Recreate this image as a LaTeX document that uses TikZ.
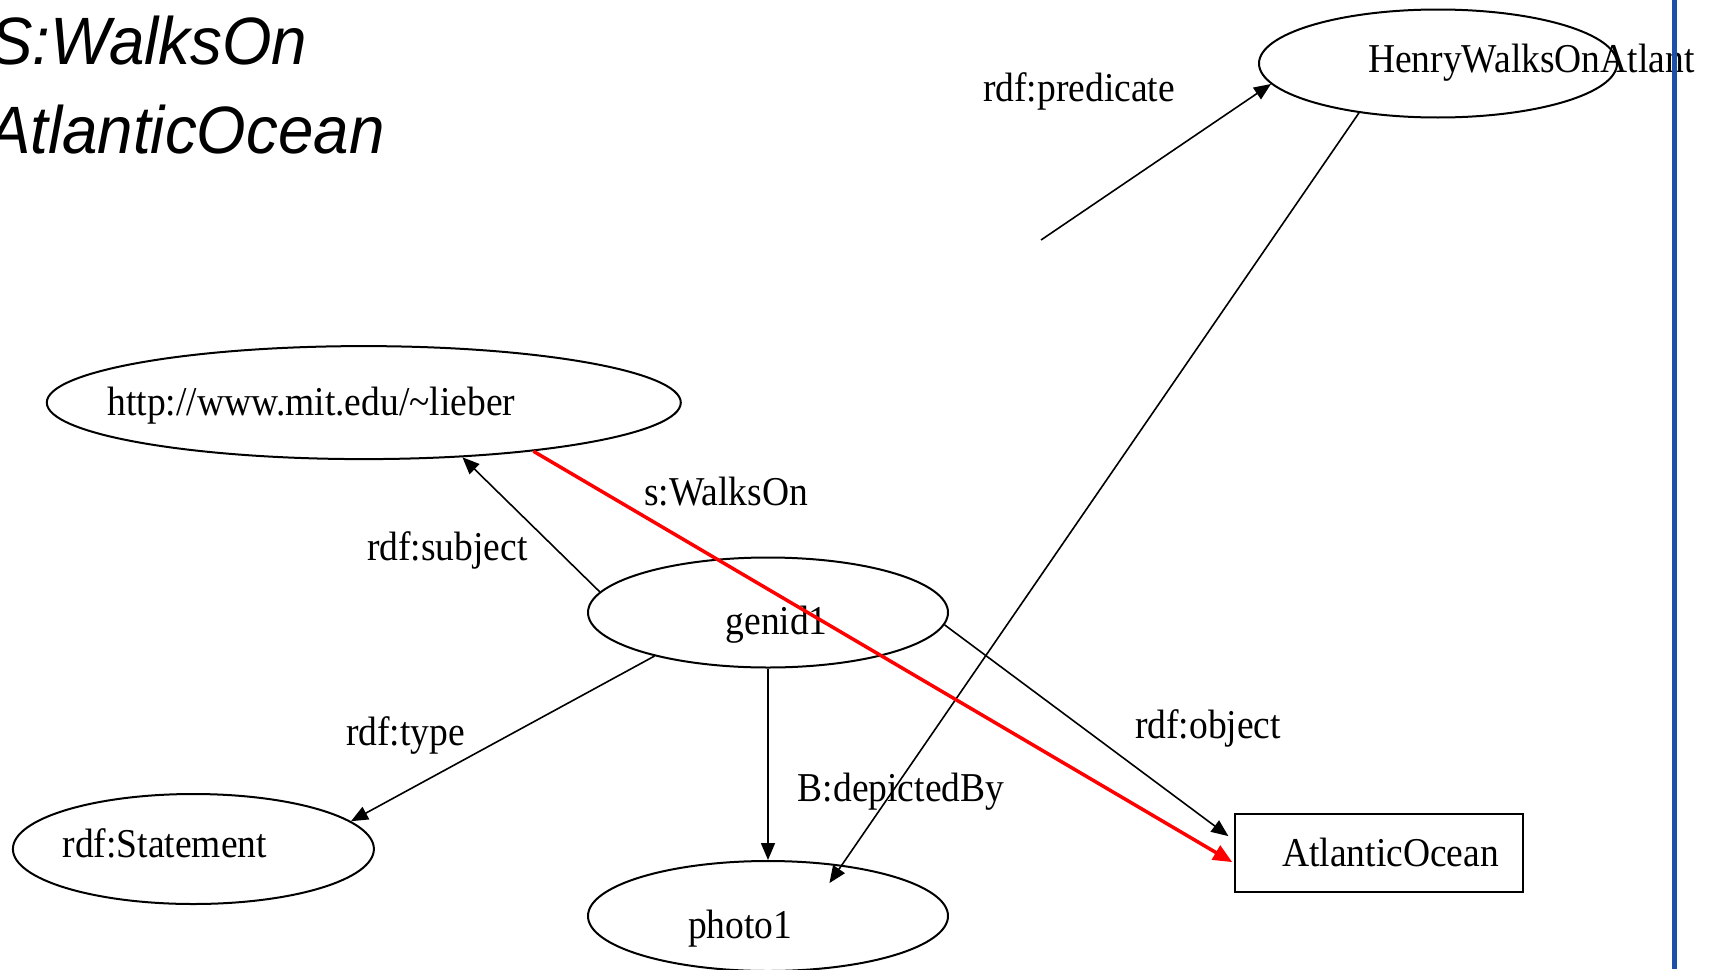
\documentclass[tikz,border=0pt]{standalone}
\usepackage{fontspec}
\setmainfont{Liberation Serif}
\newfontfamily\sansfont{Liberation Sans}
\usepackage{graphicx}
\usetikzlibrary{arrows.meta,calc,shapes.geometric}
\definecolor{slideblue}{RGB}{28,80,166}
\definecolor{edgered}{RGB}{255,0,0}
\newcommand{\sq}[1]{\scalebox{0.915}[1]{#1}}
\begin{document}
\begin{tikzpicture}[x=1pt,y=-1pt,
  res/.style={draw,ellipse,line width=2pt,inner sep=0pt},
  lit/.style={draw,rectangle,line width=2pt,inner sep=0pt},
  txt/.style={inner sep=0pt,anchor=base west,font=\fontsize{41}{49}\selectfont},
  edgearrow/.style={line width=1.6pt,-{Triangle[length=17pt,width=14pt]}},
  redarrow/.style={line width=3.5pt,draw=edgered,-{Triangle[length=19pt,width=16pt]}},
  bigtxt/.style={inner sep=0pt,anchor=base west,font=\sansfont\itshape\fontsize{67}{80}\selectfont}]
\useasboundingbox (0,0) rectangle (1718,969);
\clip (0,0) rectangle (1718,969);

% title text (cut at the left edge, as on the slide)
\node[bigtxt] (t1) at (-10,64) {\scalebox{0.95}[1]{S:WalksOn}};
\node[bigtxt] (t2) at (-12,153) {\scalebox{0.95}[1]{AtlanticOcean}};

% resource ellipses and literal box
\node[res,minimum width=358pt,minimum height=108pt] (henry) at (1438,63.5) {};
\node[res,minimum width=634pt,minimum height=113pt] (lieber) at (363.8,402.6) {};
\node[res,minimum width=360pt,minimum height=110pt] (genid) at (768,612.5) {};
\node[res,minimum width=361pt,minimum height=110pt] (stmt) at (193.4,849) {};
\node[res,minimum width=360pt,minimum height=110pt] (photo) at (768,916) {};
\node[lit,minimum width=288pt,minimum height=78pt] (atl) at (1379,853) {};

% node texts
\node[txt] (henryT) at (1368,72) {\sq{HenryWalksOnAtlant}};
\node[txt] (lieberT) at (107.4,415) {\sq{http://www.mit.edu/\textasciitilde lieber}};
\node[txt] (genidT) at (725.4,634) {\sq{genid1}};
\node[txt] (stmtT) at (62.5,857) {\sq{rdf:Statement}};
\node[txt] (photoT) at (688,938) {\sq{photo1}};
\node[txt] (atlT) at (1282,866) {\sq{AtlanticOcean}};

% edge labels
\node[txt] (lpred) at (983,101) {\sq{rdf:predicate}};
\node[txt] (lwalk) at (644,505) {\sq{s:WalksOn}};
\node[txt] (lsubj) at (367,560) {\sq{rdf:subject}};
\node[txt] (ltype) at (346,745) {\sq{rdf:type}};
\node[txt] (ldep) at (797.7,801) {\sq{B:depictedBy}};
\node[txt] (lobj) at (1135,738) {\sq{rdf:object}};

% connectors
\coordinate (predstart) at (1041,240);
\draw[edgearrow] (predstart) -- (henry.187);
\draw[edgearrow] (henry.212) -- ($(photo.center)+(61.4,-32.9)$);
\draw[edgearrow] (genid.173) -- (lieber.-29);
\draw[edgearrow] (genid.201) -- (stmt.10);
\draw[edgearrow] (genid.south) -- (photo.north);
\draw[edgearrow,shorten >=7pt] (genid.-4) -- (atl.175);
\draw[redarrow,shorten >=2pt] (lieber.-16) -- (atl.184);

% slide border line
\draw[slideblue,line width=5pt] (1674,0) -- (1674,969);
\end{tikzpicture}
\end{document}
